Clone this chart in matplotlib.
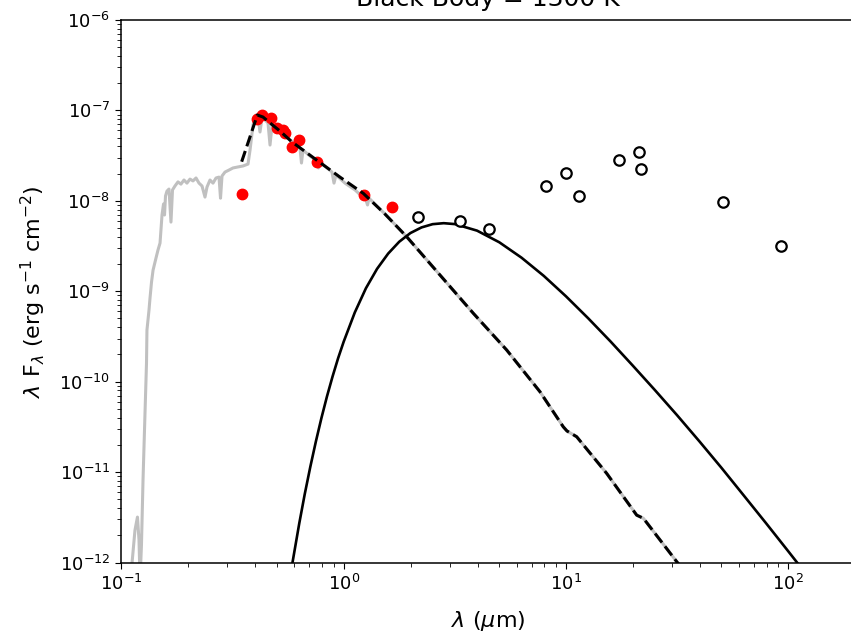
import matplotlib
matplotlib.use('Agg')
import matplotlib.pyplot as plt
import numpy as np

# grey spectrum (um, erg/s/cm2)
spec_wave = [0.1104, 0.1151, 0.1181, 0.1200, 0.1213, 0.1231, 0.1251, 0.1277, 0.1297, 0.1303,
             0.1331, 0.1345, 0.1366, 0.1388, 0.1431, 0.1461, 0.1492, 0.1523, 0.1547, 0.1563,
             0.1579, 0.1603, 0.1637, 0.1671, 0.1698, 0.1742, 0.1797, 0.1853, 0.1912, 0.1972,
             0.2035, 0.2099, 0.2166, 0.2234, 0.2305, 0.2377, 0.2427, 0.2504, 0.2583, 0.2665,
             0.2748, 0.2792, 0.2835, 0.2924, 0.3048, 0.3177, 0.3345, 0.3524, 0.3711, 0.3791,
             0.3908, 0.4031, 0.4116, 0.4202, 0.4290, 0.4426, 0.4566, 0.4662, 0.4760, 0.4960,
             0.5170, 0.5390, 0.5618, 0.5976, 0.6357, 0.6458, 0.6559, 0.7054, 0.7584, 0.7704,
             0.7825, 0.8323, 0.8857, 0.9045, 0.9234, 1.0135, 1.124, 1.260, 1.280, 1.300,
             1.534, 1.920, 2.712, 3.83, 5.41, 7.64, 9.72, 10.1, 11.17, 15.24,
             20.8, 22.3, 31.5, 40.1]
spec_flux = [7.26e-13, 2.28e-12, 3.18e-12, 1.77e-12, 6.38e-13, 1.56e-12, 8.17e-12, 4.50e-11, 1.61e-10, 3.72e-10,
             6.19e-10, 8.41e-10, 1.26e-9, 1.71e-9, 2.33e-9, 2.86e-9, 3.41e-9, 6.97e-9, 9.23e-9, 6.97e-9,
             1.13e-8, 1.28e-8, 1.35e-8, 5.82e-9, 1.32e-8, 1.46e-8, 1.62e-8, 1.53e-8, 1.70e-8, 1.57e-8,
             1.74e-8, 1.66e-8, 1.79e-8, 1.57e-8, 1.46e-8, 1.10e-8, 1.42e-8, 1.70e-8, 1.57e-8, 1.79e-8,
             1.83e-8, 1.07e-8, 1.88e-8, 2.08e-8, 2.19e-8, 2.31e-8, 2.37e-8, 2.43e-8, 2.55e-8, 3.65e-8,
             6.90e-8, 8.89e-8, 8.45e-8, 5.77e-8, 8.24e-8, 7.83e-8, 7.26e-8, 4.14e-8, 6.90e-8, 6.38e-8,
             5.77e-8, 5.48e-8, 4.95e-8, 4.35e-8, 3.84e-8, 2.62e-8, 3.65e-8, 3.13e-8, 2.76e-8, 2.31e-8,
             2.69e-8, 2.37e-8, 2.08e-8, 1.57e-8, 1.93e-8, 1.57e-8, 1.32e-8, 1.02e-8, 9.0e-9, 1.07e-8,
             7.14e-9, 4.01e-9, 1.51e-9, 5.70e-10, 2.24e-10, 7.73e-11, 3.17e-11, 2.85e-11, 2.46e-11, 9.68e-12,
             3.34e-12, 3.08e-12, 1.02e-12, 4.95e-13]

# binned model (dashed)
model_wave = [0.3476, 0.4087, 0.4335, 0.4661, 0.517, 0.5834, 0.756, 0.962, 1.225, 1.534,
              1.920, 2.712, 3.83, 5.41, 7.64, 9.72, 10.1, 11.17, 15.24, 20.8,
              22.3, 31.5, 40.1]
model_flux = [2.71e-8, 8.89e-8, 8.45e-8, 7.26e-8, 5.91e-8, 4.51e-8, 2.82e-8, 1.83e-8, 1.21e-8, 7.14e-9,
              4.01e-9, 1.51e-9, 5.70e-10, 2.24e-10, 7.73e-11, 3.17e-11, 2.85e-11, 2.46e-11, 9.68e-12, 3.34e-12,
              3.08e-12, 1.02e-12, 4.95e-13]

# black body curve, T = 1300 K
bb_wave = [0.582, 0.631, 0.668, 0.708, 0.750, 0.794, 0.841, 0.891, 0.944, 1.0,
           1.122, 1.259, 1.413, 1.585, 1.778, 1.995, 2.239, 2.512, 2.818, 3.162,
           3.981, 5.012, 6.310, 7.943, 10.0, 12.59, 15.85, 19.95, 25.12, 31.62,
           39.81, 50.12, 63.10, 79.43, 100.0, 125.9]
bb_flux = [8.55e-13, 2.70e-12, 5.71e-12, 1.15e-11, 2.19e-11, 3.96e-11, 6.87e-11, 1.14e-10, 1.82e-10, 2.77e-10,
           5.83e-10, 1.08e-9, 1.77e-9, 2.61e-9, 3.53e-9, 4.40e-9, 5.08e-9, 5.52e-9, 5.66e-9, 5.53e-9,
           4.68e-9, 3.48e-9, 2.35e-9, 1.48e-9, 8.79e-10, 5.02e-10, 2.79e-10, 1.51e-10, 8.07e-11, 4.25e-11,
           2.19e-11, 1.11e-11, 5.50e-12, 2.72e-12, 1.33e-12, 6.46e-13]

# photometry used in fit (red)
fit_wave = [0.35, 0.409, 0.430, 0.469, 0.4995, 0.535, 0.544, 0.583, 0.629, 0.761, 1.234, 1.654]
fit_flux = [1.18e-8, 8.04e-8, 8.89e-8, 8.18e-8, 6.34e-8, 6.07e-8, 5.59e-8, 3.97e-8, 4.71e-8, 2.67e-8, 1.16e-8, 8.47e-9]

# infrared photometry (open)
ir_wave = [2.166, 3.336, 4.52, 8.13, 10.0, 11.4, 17.3, 21.4, 21.7, 51.0, 92.7]
ir_flux = [6.67e-9, 6.03e-9, 4.84e-9, 1.46e-8, 2.05e-8, 1.13e-8, 2.80e-8, 3.49e-8, 2.25e-8, 9.77e-9, 3.18e-9]

plt.rcParams['xtick.labelsize'] = 13
plt.rcParams['ytick.labelsize'] = 13
plt.rcParams['xtick.major.size'] = 4.6
plt.rcParams['ytick.major.size'] = 4.6
plt.rcParams['xtick.minor.size'] = 2.6
plt.rcParams['ytick.minor.size'] = 2.6
plt.rcParams['axes.linewidth'] = 1.1

fig = plt.figure(figsize=(8.51, 6.35), dpi=100)
ax = fig.add_axes([121.4 / 851, 72.5 / 635, 733.8 / 851, 542.5 / 635])

ax.plot(spec_wave, spec_flux, color='#c0c0c0', lw=2.2, zorder=1)
ax.plot(fit_wave, fit_flux, 'o', color='red', ms=7.5, zorder=2)
ax.plot(model_wave, model_flux, '--', color='black', lw=2.2, zorder=3)
ax.plot(bb_wave, bb_flux, '-', color='black', lw=1.9, zorder=3)
ax.plot(ir_wave, ir_flux, 'o', mfc='white', mec='black', mew=1.6, ms=7.5, zorder=4)

ax.set_xscale('log')
ax.set_yscale('log')
ax.set_xlim(0.1, 200)
ax.set_ylim(1e-12, 1e-6)
ax.set_xlabel(r'$\lambda$ ($\mu$m)', fontsize=16, labelpad=11)
ax.set_ylabel(r'$\lambda$ F$_\lambda$ (erg s$^{-1}$ cm$^{-2}$)', fontsize=16, labelpad=8)
ax.set_title('Black Body = 1300 K', fontsize=18, pad=10)

fig.savefig('out.png', dpi=100)
